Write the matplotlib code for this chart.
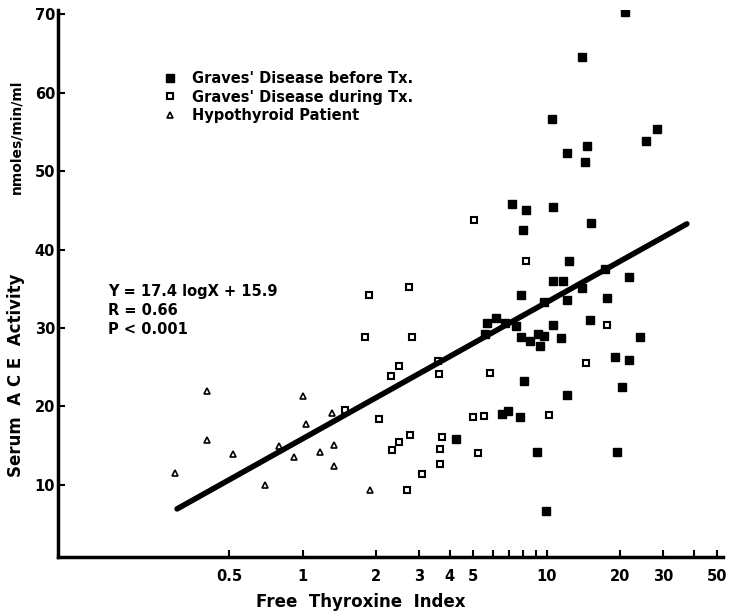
import matplotlib
matplotlib.use("Agg")
import matplotlib.pyplot as plt
from matplotlib.ticker import FixedLocator, FixedFormatter, NullLocator
import numpy as np

plt.rcParams['font.family'] = ['DejaVu Sans']
plt.rcParams['font.weight'] = 'bold'

# Graves' disease before treatment (filled squares)
before_x = [21.0, 13.96, 10.45, 28.3, 25.6, 14.6, 12.08, 14.36, 7.23, 8.18, 10.6, 15.2, 7.97,
            12.3, 17.3, 21.8, 10.6, 11.7, 7.8, 13.96, 9.72, 12.05, 17.6, 14.96, 6.73, 7.46,
            10.6, 7.8, 8.55, 9.16, 9.75, 9.39, 11.4, 24.2, 19.0, 21.7, 8.07, 12.1, 20.4,
            6.94, 6.52, 7.75, 9.12, 19.4, 5.69, 6.2, 5.59, 4.25, 9.88]
before_y = [70.3, 64.6, 56.7, 55.4, 53.9, 53.2, 52.3, 51.2, 45.8, 45.0, 45.4, 43.4, 42.5,
            38.5, 37.5, 36.5, 36.0, 36.0, 34.2, 35.1, 33.3, 33.6, 33.8, 31.0, 30.6, 30.3,
            30.4, 28.8, 28.4, 29.3, 29.0, 27.7, 28.7, 28.8, 26.3, 25.9, 23.3, 21.5, 22.5,
            19.4, 19.0, 18.6, 14.2, 14.2, 30.7, 31.3, 29.2, 15.9, 6.7]

# Graves' disease during treatment (open squares)
during_x = [1.49, 1.80, 1.87, 2.71, 2.80, 5.02, 8.18, 2.47, 2.29, 3.57, 3.62, 5.84, 2.05,
            4.98, 5.52, 2.74, 2.47, 2.32, 3.72, 3.65, 5.20, 3.65, 3.09, 2.66, 17.6, 14.45, 10.2]
during_y = [19.5, 28.8, 34.2, 35.2, 28.9, 43.8, 38.6, 25.1, 23.9, 25.8, 24.1, 24.3, 18.4,
            18.6, 18.8, 16.4, 15.5, 14.5, 16.1, 14.6, 14.0, 12.6, 11.4, 9.3, 30.4, 25.6, 18.9]

# hypothyroid patients (open triangles)
hypo_x = [0.403, 0.403, 0.515, 0.30, 1.0, 1.03, 1.32, 0.80, 0.92, 1.18, 1.34, 1.34, 0.70, 1.88]
hypo_y = [22.0, 15.7, 13.9, 11.5, 21.3, 17.7, 19.1, 14.9, 13.6, 14.2, 15.1, 12.4, 10.0, 9.3]

# regression Y = 17.4 logX + 15.9
fit_slope = 17.4
fit_icpt = 15.9
fit_range = [0.305, 37.5]

x_ticks = [0.5, 1, 2, 3, 4, 5, 10, 20, 30, 50]
x_minor = [6, 7, 8, 9, 40]
y_ticks = [10, 20, 30, 40, 50, 60, 70]

fig = plt.figure(figsize=(7.33, 6.12), dpi=100)
ax = fig.add_axes([0.079, 0.09, 0.907, 0.894])

ax.plot(before_x, before_y, 's', ms=5.5, mfc='black', mec='black',
        label="Graves' Disease before Tx.")
ax.plot(during_x, during_y, 's', ms=5, mfc='white', mec='black', mew=1.5,
        label="Graves' Disease during Tx.")
ax.plot(hypo_x, hypo_y, '^', ms=5, mfc='white', mec='black', mew=1.2,
        label="Hypothyroid Patient")

fx = np.array(fit_range)
ax.plot(fx, fit_slope * np.log10(fx) + fit_icpt, color='black', lw=4, solid_capstyle='round')

ax.set_xscale('log')
ax.set_xlim(0.099, 52.6)
ax.set_ylim(0.8, 70.6)

ax.xaxis.set_major_locator(FixedLocator(x_ticks))
ax.xaxis.set_major_formatter(FixedFormatter([str(t) for t in x_ticks]))
ax.xaxis.set_minor_locator(FixedLocator(x_minor))
ax.yaxis.set_major_locator(FixedLocator(y_ticks))
ax.yaxis.set_minor_locator(NullLocator())

ax.tick_params(axis='both', which='both', direction='in', width=1.5, length=5,
               labelsize=10.5)
ax.tick_params(axis='x', pad=9)
ax.tick_params(axis='y', pad=2)

for s in ['top', 'right']:
    ax.spines[s].set_visible(False)
for s in ['left', 'bottom']:
    ax.spines[s].set_linewidth(2.5)

ax.legend(loc='upper left', bbox_to_anchor=(0.214, 0.896), bbox_transform=fig.transFigure,
          frameon=False, handlelength=0.8, handletextpad=1.1, labelspacing=0.25,
          borderpad=0, prop={'size': 10.5, 'weight': 'bold'})

fig.text(0.147, 0.493, "Y = 17.4 logX + 15.9\nR = 0.66\nP < 0.001", fontsize=10.5,
         fontweight='bold', va='center', ha='left', linespacing=1.35)

fig.text(0.022, 0.387, "Serum  A C E  Activity", rotation=90, fontsize=12,
         fontweight='bold', ha='center', va='center')
fig.text(0.022, 0.776, "nmoles/min/ml", rotation=90, fontsize=10,
         fontweight='bold', ha='center', va='center')
fig.text(0.4925, 0.016, "Free  Thyroxine  Index", fontsize=12, fontweight='bold',
         ha='center', va='center')

fig.savefig('out.png', dpi=100)
